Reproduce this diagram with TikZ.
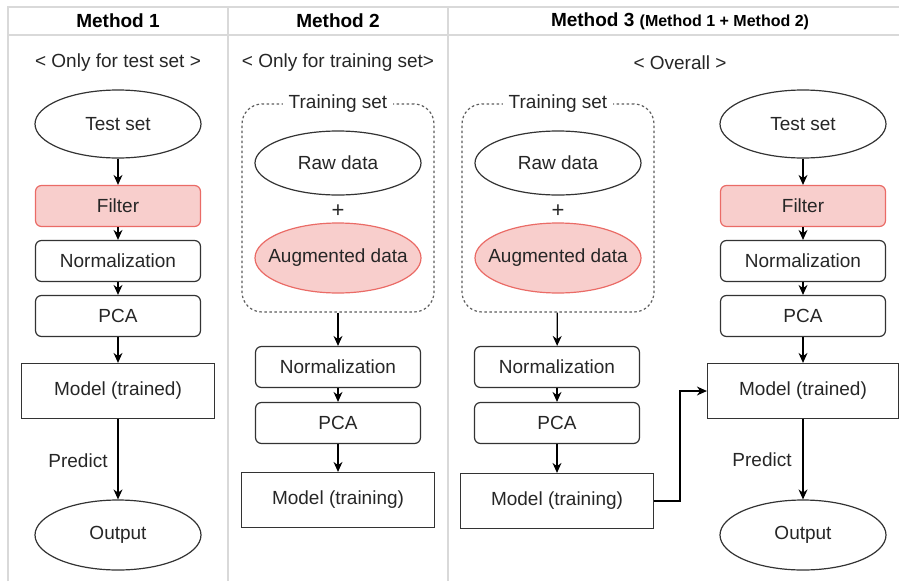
\documentclass[tikz,border=0pt]{standalone}
\usepackage{fontspec}
\setmainfont{Liberation Sans}
\usetikzlibrary{shapes.geometric,arrows.meta}
\definecolor{pinkfill}{HTML}{F8CECC}
\definecolor{pinkline}{HTML}{EA6B66}
\definecolor{gridc}{HTML}{D9D9D9}
\definecolor{ink}{HTML}{333333}
\begin{document}
\begin{tikzpicture}[x=1pt,y=-1pt,
 every node/.style={font=\fontsize{19}{22}\selectfont, text=black!85, inner sep=0pt},
 rbox/.style={draw=ink, line width=1.2pt, rounded corners=6pt, minimum width=165pt, minimum height=41pt},
 fbox/.style={rbox, draw=pinkline, fill=pinkfill},
 sbox/.style={draw=ink, line width=1.2pt, minimum width=193pt, minimum height=55pt},
 ell/.style={ellipse, draw=ink, line width=1.2pt, minimum width=166pt, minimum height=68pt},
 pell/.style={ell, draw=pinkline, fill=pinkfill},
 arr/.style={line width=1.2pt, -{Stealth[length=10pt,width=9pt]}},
 grp/.style={draw=ink!80, line width=1.2pt, dash pattern=on 2.5pt off 2.5pt, rounded corners=20pt, minimum width=192pt, minimum height=208pt},
 glabel/.style={fill=white, inner xsep=6pt, inner ysep=2pt},
 tline/.style={draw=gridc, line width=2pt},
 hdr/.style={font=\bfseries\fontsize{19}{22}\selectfont, text=black}]

\useasboundingbox (0,0) rectangle (899,581);
% table grid
\draw[tline] (8,581) -- (8,7) -- (899,7);
\draw[tline] (8,35) -- (899,35);
\draw[tline] (228,7) -- (228,581);
\draw[tline] (448,7) -- (448,581);

% headers
\node[hdr] (h1) at (118,21) {Method 1};
\node[hdr] (h2) at (338,21) {Method 2};
\node[hdr] (h3) at (680,21) {Method 3 {\fontsize{16}{18}\selectfont (Method 1 + Method 2)}};
\node (s1) at (118,63) {< Only for test set >};
\node (s2) at (338,63) {< Only for training set>};
\node (s3) at (680,63) {< Overall >};

% Method 1
\node[ell] (a1) at (118,124) {Test set};
\node[fbox] (a2) at (118,206) {Filter};
\node[rbox] (a3) at (118,261) {Normalization};
\node[rbox] (a4) at (118,316) {PCA};
\node[sbox] (a5) at (118,391) {Model (trained)};
\node[ell, minimum height=70pt] (a6) at (118,535) {Output};
\node (p1) at (78,461) {Predict};
\draw[arr] (a1) -- (a2);
\draw[arr] (a2) -- (a3);
\draw[arr] (a3) -- (a4);
\draw[arr] (a4) -- (a5);
\draw[arr] (a5) -- (a6);

% Method 2
\node[grp] (g1) at (338,208) {};
\node[glabel] (gl1) at (g1.north) {Training set};
\node[ell, minimum height=64pt] (b1) at (338,163) {Raw data};
\node[font=\fontsize{22}{24}\selectfont] (plus1) at (338,211) {+};
\node[pell, minimum height=70pt] (b2) at (338,258) {};
\node (b2t) at (b2) {Augmented data};
\node[rbox] (b3) at (338,367) {Normalization};
\node[rbox] (b4) at (338,423) {PCA};
\node[sbox] (b5) at (338,500) {Model (training)};
\draw[arr] (g1) -- (b3);
\draw[arr] (b3) -- (b4);
\draw[arr] (b4) -- (b5);

% Method 3 left
\node[grp] (g2) at (558,208) {};
\node[glabel] (gl2) at (g2.north) {Training set};
\node[ell, minimum height=64pt] (c1) at (558,163) {Raw data};
\node[font=\fontsize{22}{24}\selectfont] (plus2) at (558,211) {+};
\node[pell, minimum height=70pt] (c2) at (558,258) {};
\node (c2t) at (c2) {Augmented data};
\node[rbox] (c3) at (557,367) {Normalization};
\node[rbox] (c4) at (557,423) {PCA};
\node[sbox] (c5) at (557,501) {Model (training)};
\draw[arr] (g2) -- (c3);
\draw[arr] (c3) -- (c4);
\draw[arr] (c4) -- (c5);

% Method 3 right
\node[ell] (d1) at (803,124) {Test set};
\node[fbox] (d2) at (803,206) {Filter};
\node[rbox] (d3) at (803,261) {Normalization};
\node[rbox] (d4) at (803,316) {PCA};
\node[sbox, minimum width=191pt] (d5) at (803,391) {Model (trained)};
\node[ell, minimum height=70pt] (d6) at (803,535) {Output};
\node (p2) at (762,460) {Predict};
\draw[arr] (d1) -- (d2);
\draw[arr] (d2) -- (d3);
\draw[arr] (d3) -- (d4);
\draw[arr] (d4) -- (d5);
\draw[arr] (d5) -- (d6);

\coordinate (bend) at (680,501);
\draw[arr] (c5.east) -- (bend) |- (d5.west);
\end{tikzpicture}
\end{document}
